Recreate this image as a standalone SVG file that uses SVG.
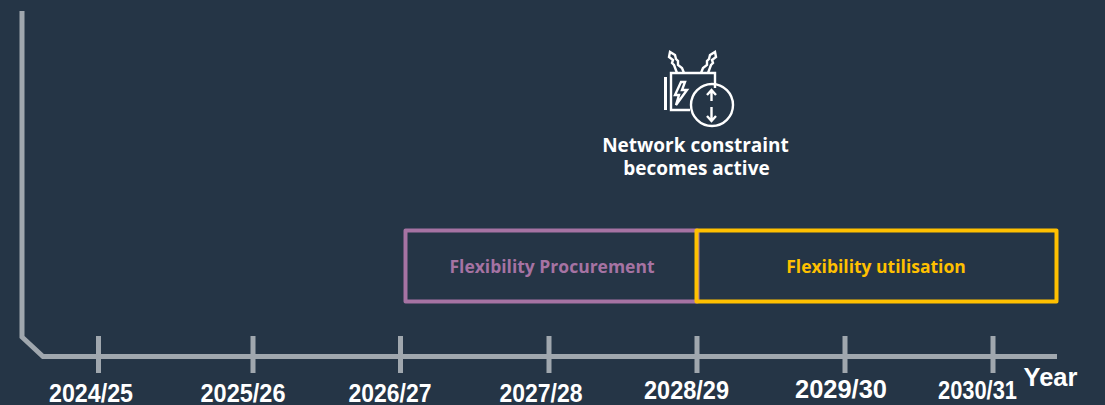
<svg xmlns="http://www.w3.org/2000/svg" width="1105" height="405" viewBox="0 0 1105 405">
<style>
.axis{fill:none;stroke:#a0a7ae;stroke-width:5}
.yr{font:bold 25px "Liberation Sans",Arial,sans-serif;fill:#fff;text-anchor:middle}
.lbl{font-family:"Open Sans","Noto Sans",sans-serif;font-weight:bold;text-anchor:middle;font-size:17.500px}
.cap{font:bold 19px "Open Sans","Noto Sans",sans-serif;fill:#fff;text-anchor:middle}
.ic{fill:none;stroke:#fff;stroke-width:2.400}
</style>
<rect width="1105" height="405" fill="#253546"/>
<g id="axes">
<path class="axis" d="M22 11V337L43 356.500H1057"/>
<path class="axis" d="M98.500 336V373M253 336V373M400.500 336V373M549 336V373M697 336V373M845 336V373M993 336V373"/>
</g>
<g id="ticks">
<text class="yr" x="91" y="402" textLength="84" lengthAdjust="spacingAndGlyphs">2024/25</text>
<text class="yr" x="243" y="402" textLength="85" lengthAdjust="spacingAndGlyphs">2025/26</text>
<text class="yr" x="390" y="402" textLength="83" lengthAdjust="spacingAndGlyphs">2026/27</text>
<text class="yr" x="541" y="402" textLength="83" lengthAdjust="spacingAndGlyphs">2027/28</text>
<text class="yr" x="686.500" y="399" textLength="85" lengthAdjust="spacingAndGlyphs">2028/29</text>
<text class="yr" x="841" y="398" textLength="92" lengthAdjust="spacingAndGlyphs">2029/30</text>
<text class="yr" x="977.500" y="399" textLength="79" lengthAdjust="spacingAndGlyphs">2030/31</text>
<text x="1050.500" y="386" font-family="Liberation Sans,Arial,sans-serif" font-weight="bold" font-size="25.500" fill="#fff" text-anchor="middle">Year</text>
</g>
<g id="procurement">
<rect x="405.500" y="230.500" width="292" height="71" fill="none" stroke="#a673a3" stroke-width="4" stroke-linejoin="round"/>
<text class="lbl" x="552" y="272.500" fill="#a673a3">Flexibility Procurement</text>
</g>
<g id="utilisation">
<rect x="696.500" y="230.500" width="360" height="71" fill="none" stroke="#ffc000" stroke-width="4" stroke-linejoin="round"/>
<text class="lbl" x="876" y="272.500" fill="#ffc000">Flexibility utilisation</text>
</g>
<g id="constraint">
<g class="ic">
<circle cx="712" cy="105" r="21"/>
<path stroke-width="3" d="M665.500 77V110"/>
<path d="M690 110H671V73H715V88"/>
<path d="M711.500 90V101M711.500 107V121M707 95L711.500 90L716 95M707 116L711.500 121L716 116"/>
<path d="M681 82L675 95H679L676 105L687 90H682L685 82Z"/>
<path d="M677 73L674 65L672 63L673 60L669 57L670 52L675 55L676 59L678 61L678 65L682 68L684 73"/>
<path d="M708 73L711 65L713 63L712 60L716 57L715 52L710 55L709 59L707 61L707 65L703 68L701 73"/>
</g>
<text class="cap"><tspan x="695.500" y="152">Network constraint</tspan><tspan x="696.500" y="175">becomes active</tspan></text>
</g>
</svg>
